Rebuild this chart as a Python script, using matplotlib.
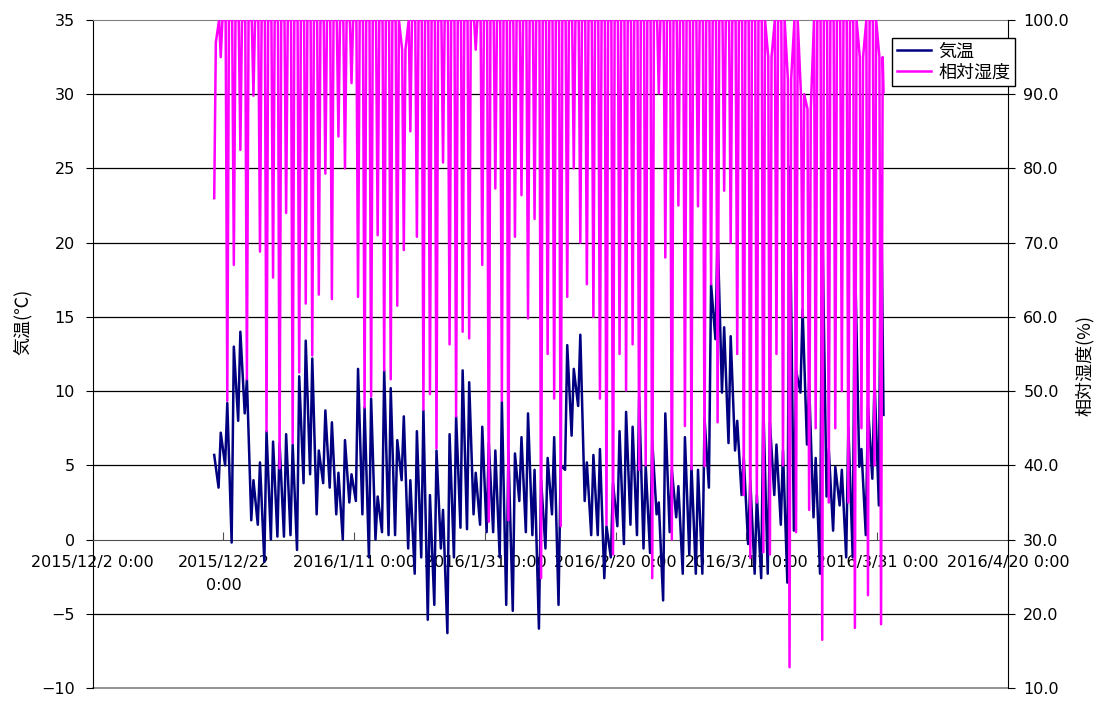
import numpy as np
import pandas as pd
import matplotlib
matplotlib.use('Agg')
import matplotlib.pyplot as plt

plt.rcParams['font.family'] = ['DejaVu Sans', 'Noto Sans CJK JP']
jp_font = ['Noto Sans CJK JP', 'DejaVu Sans']

# 2015/12/20 - 2016/3/31, 1日ごとの読み取り値
first_day = '2015-12-20'
series_start = '2015-12-20 12:00'

# 気温: 朝(6時)と午後(14時)
temp_lo = [5.0, 3.5, 5.0, -0.2, 8.0, 8.5, 1.3, 1.0, -1.5, 0.0,
           0.2, 0.2, 0.3, -0.7, 3.8, 4.4, 1.7, 3.8, 3.5, 1.7,
           0.0, 2.5, 2.6, 1.7, -1.2, 0.0, 0.5, 0.3, 0.3, 4.0,
           -0.6, -2.3, -1.2, -5.4, -4.4, -0.6, -6.3, -1.2, 0.8, 0.7,
           1.7, 1.0, 0.5, 0.5, -1.2, -4.4, -4.8, 2.6, 0.5, 0.3,
           -6.0, -0.6, 1.7, -4.4, 4.7, 7.0, 9.0, 2.6, 0.3, 0.3,
           -2.6, -1.2, 0.9, -0.3, 1.0, 0.3, -0.6, -0.9, 1.7, -4.1,
           0.5, 1.5, -2.3, -1.0, -2.3, -2.3, 3.5, 13.5, 9.9, 6.5,
           6.0, 3.0, -0.3, -2.3, -2.6, -2.3, 3.0, 1.0, -2.9, 0.6,
           9.9, 6.4, 1.5, -2.3, 2.9, 0.6, 2.3, -1.2, -1.2, 4.9,
           0.3, 4.1, 2.3]
temp_hi = [5.7, 7.2, 9.2, 13.0, 14.0, 10.8, 4.0, 5.2, 7.3, 6.6,
           6.5, 7.1, 6.4, 11.0, 13.4, 12.2, 6.0, 8.7, 7.9, 4.5,
           6.7, 4.4, 11.5, 8.9, 9.5, 2.9, 11.4, 10.2, 6.7, 8.3,
           4.0, 7.3, 8.7, 3.0, 6.0, 2.0, 7.1, 8.3, 11.4, 10.6,
           4.5, 7.6, 6.5, 6.0, 9.3, 6.0, 5.8, 6.9, 8.5, 4.7,
           4.0, 5.5, 6.9, 5.0, 13.1, 11.5, 13.8, 5.2, 5.7, 6.1,
           0.9, 3.8, 7.3, 8.6, 7.6, 9.6, 5.0, 6.7, 2.5, 8.5,
           4.7, 3.6, 6.9, 5.0, 4.7, 8.2, 17.2, 20.7, 14.3, 13.7,
           8.0, 5.5, 4.0, 3.0, 9.0, 7.9, 6.4, 6.0, 25.1, 11.4,
           15.5, 10.5, 5.5, 21.9, 6.1, 4.9, 4.7, 7.6, 19.5, 6.1,
           9.0, 10.8, 24.5]

# 相対湿度: 日中の最低(14時)と夜間の値(8時・20時)
rh_min = [76, 95, 48.7, 67, 82.5, 51.6, 89.8, 68.8, 44.6, 65.3,
          39.6, 74, 43, 52.5, 61.8, 54.8, 63, 79.3, 62.4, 84.3,
          80, 91.5, 62.7, 47.8, 49.3, 71, 52.8, 51.6, 61.5, 69,
          85, 70.8, 47.5, 49.6, 42.3, 80.8, 56.3, 46.6, 58, 57.1,
          96, 67, 32.4, 77.3, 48.7, 32.6, 70.8, 76.4, 59.8, 73.2,
          24.8, 55, 49, 31.8, 62.7, 80, 70, 64.4, 60, 49,
          32, 28, 55, 50.1, 56.3, 39.4, 40, 24.8, 90.1, 68,
          30, 75, 45.3, 39.5, 74.9, 39.9, 64.4, 45.8, 77, 70,
          55, 36, 27.5, 35, 28.3, 28, 55, 40, 12.8, 31,
          60, 34, 45, 16.5, 35, 45, 50, 35, 18.1, 45,
          22.5, 40, 18.6]
rh_max = [97, 100, 100, 100, 100, 100, 100, 100, 100, 100,
          100, 100, 100, 100, 100, 100, 100, 100, 100, 100,
          100, 100, 100, 100, 100, 100, 100, 100, 100, 96,
          100, 100, 100, 100, 100, 100, 100, 100, 100, 100,
          100, 100, 100, 100, 100, 100, 100, 100, 100, 100,
          100, 100, 100, 100, 100, 100, 100, 100, 100, 100,
          100, 100, 100, 100, 100, 100, 100, 100, 100, 100,
          100, 100, 100, 100, 100, 100, 100, 100, 100, 100,
          100, 100, 100, 100, 100, 95, 100, 100, 92, 100,
          90, 88, 100, 100, 100, 100, 100, 100, 100, 95,
          100, 100, 95]

last_time = '2016-03-31 23:00'
last_temp = 8.4
last_rh = 90.3

x_ticks = pd.date_range('2015-12-02', '2016-04-20', freq='20D')
x_labels = ['2015/12/2 0:00', '2015/12/22\n0:00', '2016/1/11 0:00',
            '2016/1/31 0:00', '2016/2/20 0:00', '2016/3/11 0:00',
            '2016/3/31 0:00', '2016/4/20 0:00']
temp_ticks = list(range(-10, 36, 5))
rh_ticks = list(range(10, 101, 10))


def build_series(days, hours, columns, last_value):
    # 日ごとの値を時刻つきの系列に並べる
    times, values = [], []
    for i, d in enumerate(days):
        for h, col in zip(hours, columns):
            times.append(d + pd.Timedelta(hours=h))
            values.append(col[i])
    s = pd.Series(values, index=pd.DatetimeIndex(times))
    s[pd.Timestamp(last_time)] = last_value
    return s[s.index >= pd.Timestamp(series_start)]


days = pd.date_range(first_day, periods=len(temp_lo), freq='D')
temp = build_series(days, [6, 14], [temp_lo, temp_hi], last_temp)
rh = build_series(days, [8, 14, 20], [rh_max, rh_min, rh_max], last_rh)

fig = plt.figure(figsize=(10.96, 7.02), dpi=100)
ax = fig.add_axes([0.0846, 0.0199, 0.8351, 0.9516])
ax2 = ax.twinx()

for v in temp_ticks[1:-1]:
    if v != 0:
        ax.axhline(v, color='black', lw=0.9, zorder=1)
ax.axhline(-10, color='#808080', lw=1.2, zorder=1, clip_on=False)

l1, = ax.plot(temp.index, temp.values, color='#000080', lw=1.8, zorder=3)
l2, = ax2.plot(rh.index, rh.values, color='#FF00FF', lw=1.8)

ax.set_xlim(x_ticks[0], x_ticks[-1])
ax.set_ylim(-10, 35)
ax2.set_ylim(10, 100)

ax.set_xticks(x_ticks)
ax.set_xticklabels(x_labels)
ax.set_yticks(temp_ticks)
ax.set_yticklabels([str(v).replace('-', '\u2212') for v in temp_ticks])
ax2.set_yticks(rh_ticks)
ax2.set_yticklabels([f'{v:.1f}' for v in rh_ticks])

ax.spines['bottom'].set_position(('data', 0))
ax.spines['bottom'].set_color('#505050')
ax.spines['top'].set_color('#808080')
ax.spines['right'].set_visible(False)
for side in ['top', 'bottom', 'left']:
    ax2.spines[side].set_visible(False)
ax.tick_params(axis='x', direction='in', length=6, pad=11, colors='#505050',
               labelcolor='black', labelsize=11.5)
ax.tick_params(axis='y', direction='out', length=5, pad=8, labelsize=11.5)
ax2.tick_params(axis='y', direction='out', length=5, pad=6, labelsize=11.5)
for lab in ax.get_xticklabels():
    lab.set_linespacing(1.7)

# 軸ラベル
fig.text(22 / 1096, 1 - 322 / 702, '気温(℃)', rotation=90, ha='center', va='center',
         fontsize=13, family=jp_font)
fig.text(1085 / 1096, 1 - 365 / 702, '相対湿度(%)', rotation=90, ha='center', va='center',
         fontsize=13, family=jp_font)

leg = ax2.legend([l1, l2], ['気温', '相対湿度'], loc='upper left',
                 bbox_to_anchor=(892 / 1096, 1 - 38 / 702), bbox_transform=fig.transFigure,
                 prop={'family': jp_font, 'size': 13}, frameon=True, fancybox=False,
                 framealpha=1, edgecolor='black', borderpad=0.25, labelspacing=0.15,
                 handlelength=1.9, handletextpad=0.4, borderaxespad=0)
leg.get_frame().set_linewidth(1.0)

fig.savefig('out.png', dpi=100)
